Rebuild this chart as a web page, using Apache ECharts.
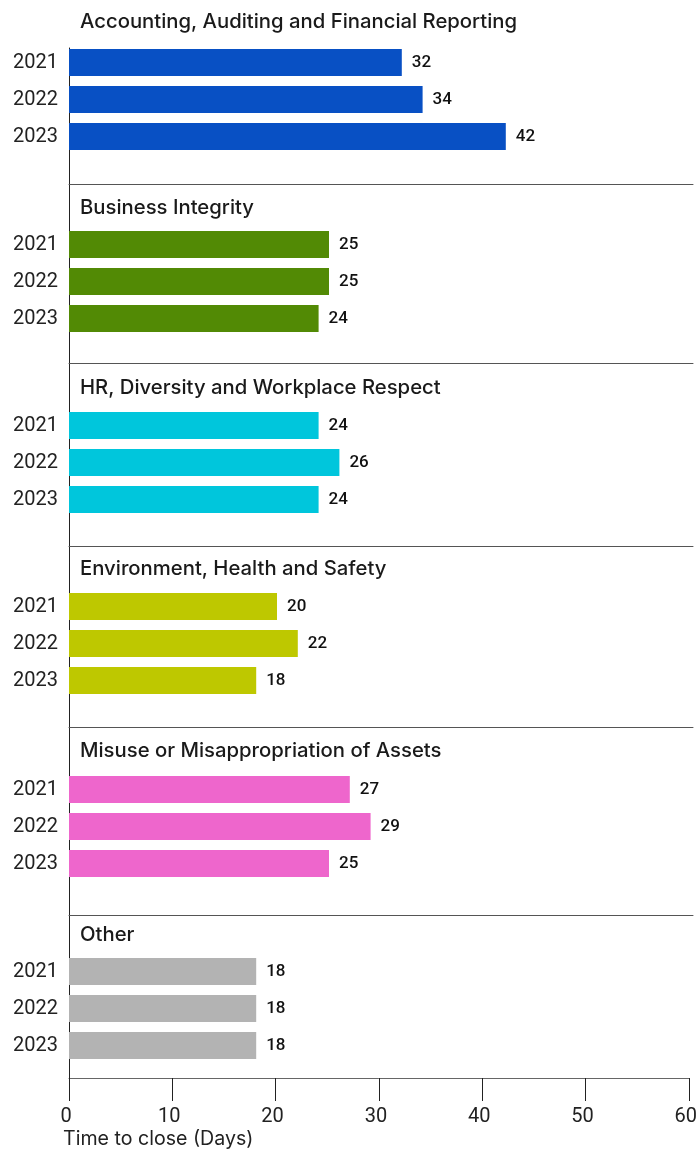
<!DOCTYPE html>
<html>
<head>
<meta charset="utf-8">
<script src="https://cdn.jsdelivr.net/npm/echarts@6/dist/echarts.min.js"></script>
<style>
html,body{margin:0;padding:0;background:#fff;}
#chart{width:700px;height:1151px;}
</style>
</head>
<body>
<div id="chart"></div>
<script>
// ---- data ----
const categories = [
  'Accounting, Auditing and Financial Reporting',
  'Business Integrity',
  'HR, Diversity and Workplace Respect',
  'Environment, Health and Safety',
  'Misuse or Misappropriation of Assets',
  'Other'
];
const years = ['2021', '2022', '2023'];
const accounting = [32, 34, 42];
const businessIntegrity = [25, 25, 24];
const hrDiversity = [24, 26, 24];
const environment = [20, 22, 18];
const misuse = [27, 29, 25];
const other = [18, 18, 18];
const xTickValues = [0, 10, 20, 30, 40, 50, 60];
const axisName = 'Time to close (Days)';

// ---- styling / layout ----
const values = [accounting, businessIntegrity, hrDiversity, environment, misuse, other];
const colors = ['#0850C4', '#528A05', '#00C6DC', '#BEC800', '#EE66CC', '#B3B3B3'];
const gridTops = [44, 226, 407, 588, 771, 953];
const bandH = 111;
const sepY = [184.5, 363, 546.5, 727, 915.5, 1078];
const titleCenter = [22, 207.5, 387.5, 568.5, 751, 935];
const FONT = 'Roboto';
const TFONT = 'Inter';
const W = 700, H = 1151;

const chart = echarts.init(document.getElementById('chart'), null, {renderer: 'canvas'});

const grids = [], xAxes = [], yAxes = [], series = [], titles = [];
for (let i = 0; i < 6; i++) {
  grids.push({left: 69, right: 7, top: gridTops[i], height: bandH});
  xAxes.push({
    gridIndex: i, type: 'value', min: xTickValues[0], max: xTickValues[xTickValues.length - 1], interval: 10,
    position: 'bottom',
    offset: sepY[i] - (gridTops[i] + bandH),
    axisLine: {show: i < 5, onZero: false, lineStyle: {color: '#555', width: 1}},
    axisTick: {show: false}, axisLabel: {show: false}, splitLine: {show: false}
  });
  yAxes.push({
    gridIndex: i, type: 'category', data: years, inverse: true,
    axisLine: {show: false}, axisTick: {show: false}, splitLine: {show: false},
    axisLabel: {fontSize: 20, color: '#222', margin: 11, fontFamily: FONT}
  });
  series.push({
    type: 'bar', xAxisIndex: i, yAxisIndex: i, data: values[i], barWidth: 27,
    itemStyle: {color: colors[i]}, silent: true,
    label: {show: true, position: 'right', distance: 10, fontSize: 17, fontWeight: 500,
            color: '#111', fontFamily: FONT}
  });
  titles.push({
    text: categories[i], left: 80, top: titleCenter[i] - 10, padding: 0,
    textStyle: {fontSize: 20.3, fontWeight: 500, color: '#1a1a1a', fontFamily: TFONT, lineHeight: 20}
  });
}
// background frame grid: vertical line + bottom axis with ticks
grids.push({left: 69, right: 7, top: 48, bottom: H - 1078});
xAxes.push({
  gridIndex: 6, type: 'value', min: 0, max: 60, interval: 10, position: 'bottom',
  axisLine: {show: true, onZero: false, lineStyle: {color: '#666', width: 1}},
  axisTick: {show: true, length: 23, lineStyle: {color: '#222', width: 1}},
  axisLabel: {fontSize: 20, color: '#222', margin: 29, fontFamily: FONT, padding: [0, 6, 0, 0]},
  splitLine: {show: false}
});
yAxes.push({
  gridIndex: 6, type: 'value', min: 0, max: 1, position: 'left',
  axisLine: {show: true, onZero: false, lineStyle: {color: '#222', width: 1}},
  axisTick: {show: false}, axisLabel: {show: false}, splitLine: {show: false}
});
titles.push({
  text: axisName, left: 63, top: 1130, padding: 0,
  textStyle: {fontSize: 19.6, fontWeight: 400, color: '#222', fontFamily: TFONT, lineHeight: 19}
});

chart.setOption({
  animation: false,
  backgroundColor: '#fff',
  title: titles,
  grid: grids,
  xAxis: xAxes,
  yAxis: yAxes,
  series: series
});
</script>
</body>
</html>
